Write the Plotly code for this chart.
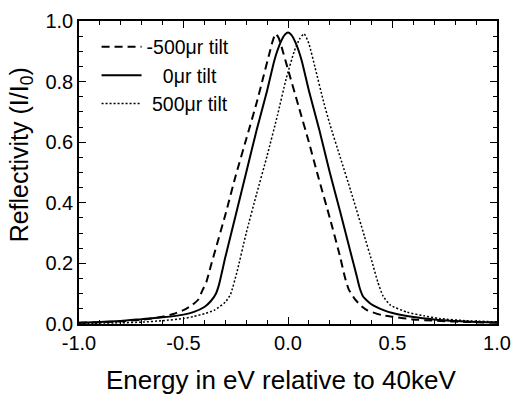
import plotly.graph_objects as go

# -500 urad tilt (dashed)
x_m500 = [-1.0, -0.9, -0.8, -0.7, -0.6, -0.55, -0.5, -0.46, -0.43, -0.41, -0.39, -0.37,
          -0.3, -0.25, -0.2, -0.15, -0.12, -0.09, -0.075, -0.06, -0.045, -0.033, 0.0,
          0.05, 0.1, 0.139, 0.2, 0.25, 0.272, 0.29, 0.32, 0.35, 0.38, 0.45, 0.5, 0.6,
          0.7, 0.8, 0.9, 1.0]
y_m500 = [0.004, 0.006, 0.009, 0.014, 0.024, 0.033, 0.046, 0.062, 0.08, 0.11, 0.14, 0.19,
          0.36, 0.49, 0.61, 0.73, 0.81, 0.89, 0.93, 0.958, 0.945, 0.92, 0.84,
          0.72, 0.60, 0.50, 0.35, 0.22, 0.155, 0.115, 0.082, 0.06, 0.045, 0.029, 0.024, 0.015,
          0.011, 0.008, 0.006, 0.004]

# 0 urad tilt (solid)
x_0 = [-1.0, -0.9, -0.8, -0.7, -0.6, -0.5, -0.45, -0.4, -0.37, -0.345, -0.33, -0.3,
       -0.25, -0.2, -0.15, -0.1, -0.064, -0.035, -0.015, 0.0, 0.015, 0.035, 0.064,
       0.1, 0.15, 0.2, 0.25, 0.3, 0.33, 0.343, 0.36, 0.397, 0.46, 0.5, 0.6, 0.7,
       0.8, 0.9, 1.0]
y_0 = [0.004, 0.007, 0.010, 0.016, 0.022, 0.031, 0.040, 0.056, 0.075, 0.10, 0.13, 0.22,
       0.36, 0.50, 0.64, 0.77, 0.873, 0.93, 0.955, 0.962, 0.955, 0.93, 0.873,
       0.77, 0.64, 0.50, 0.37, 0.235, 0.155, 0.119, 0.09, 0.066, 0.045, 0.036, 0.023, 0.015,
       0.010, 0.007, 0.005]

# +500 urad tilt (dotted)
x_p500 = [-1.0, -0.8, -0.7, -0.6, -0.5, -0.45, -0.4, -0.354, -0.3, -0.275, -0.244, -0.2,
          -0.15, -0.1, -0.05, -0.009, 0.03, 0.055, 0.077, 0.1, 0.13, 0.17, 0.2, 0.25,
          0.3, 0.366, 0.4, 0.429, 0.455, 0.49, 0.57, 0.65, 0.726, 0.85, 1.0]
y_p500 = [0.002, 0.004, 0.006, 0.011, 0.018, 0.025, 0.034, 0.045, 0.072, 0.098, 0.172, 0.30,
          0.43, 0.555, 0.69, 0.809, 0.90, 0.94, 0.958, 0.925, 0.845, 0.734, 0.66, 0.55,
          0.44, 0.289, 0.21, 0.14, 0.092, 0.062, 0.039, 0.027, 0.018, 0.011, 0.007]

names = ["-500\u03bcr tilt", "\u00a0\u00a0\u00a00\u03bcr tilt", "\u00a0500\u03bcr tilt"]

FONT = "Liberation Sans, Arial, sans-serif"

fig = go.Figure()
fig.add_trace(go.Scatter(x=x_m500, y=y_m500, mode="lines", name=names[0],
                         line=dict(color="black", width=2, dash="8px,5px", shape="spline", smoothing=0.5)))
fig.add_trace(go.Scatter(x=x_0, y=y_0, mode="lines", name=names[1],
                         line=dict(color="black", width=2, shape="spline", smoothing=0.5)))
fig.add_trace(go.Scatter(x=x_p500, y=y_p500, mode="lines", name=names[2],
                         line=dict(color="black", width=1.5, dash="2px,2px", shape="spline", smoothing=0.5)))

axis_common = dict(showline=True, linecolor="black", linewidth=1.5, mirror="ticks",
                   ticks="inside", ticklen=7, tickwidth=1, tickcolor="black",
                   showgrid=False, zeroline=False,
                   tickfont=dict(family=FONT, size=20, color="black"))

fig.update_xaxes(range=[-1.0, 1.0], tickmode="array",
                 tickvals=[-1.0, -0.5, 0.0, 0.5, 1.0],
                 ticktext=["-1.0", "-0.5", "0.0", "0.5", "1.0"],
                 minor=dict(dtick=0.1, ticks="inside", ticklen=4, tickcolor="black", showgrid=False),
                 **axis_common)
fig.update_yaxes(range=[0.0, 1.0], tickmode="array",
                 tickvals=[0.0, 0.2, 0.4, 0.6, 0.8, 1.0],
                 ticktext=["0.0", "0.2", "0.4", "0.6", "0.8", "1.0"],
                 minor=dict(dtick=0.05, ticks="inside", ticklen=4, tickcolor="black", showgrid=False),
                 **axis_common)

fig.update_layout(
    width=521, height=402,
    margin=dict(l=79, r=16, t=10, b=78),
    paper_bgcolor="white", plot_bgcolor="white",
    font=dict(family=FONT, color="black"),
    showlegend=True,
    legend=dict(x=0.042, y=0.978, xanchor="left", yanchor="top",
                bgcolor="rgba(0,0,0,0)", borderwidth=0,
                font=dict(family=FONT, size=19.5, color="black"),
                itemwidth=40, tracegroupgap=0),
    annotations=[
        dict(text="Energy in eV relative to 40keV", xref="paper", yref="paper",
             x=0.483, y=-0.185, xanchor="center", yanchor="middle", showarrow=False,
             font=dict(family=FONT, size=26, color="black")),
        dict(text="Reflectivity (I/I<sub>0</sub>)", xref="paper", yref="paper",
             x=-0.1385, y=0.557, xanchor="center", yanchor="middle", showarrow=False,
             textangle=-90, font=dict(family=FONT, size=25, color="black")),
    ],
)

fig.write_html("out.html")
